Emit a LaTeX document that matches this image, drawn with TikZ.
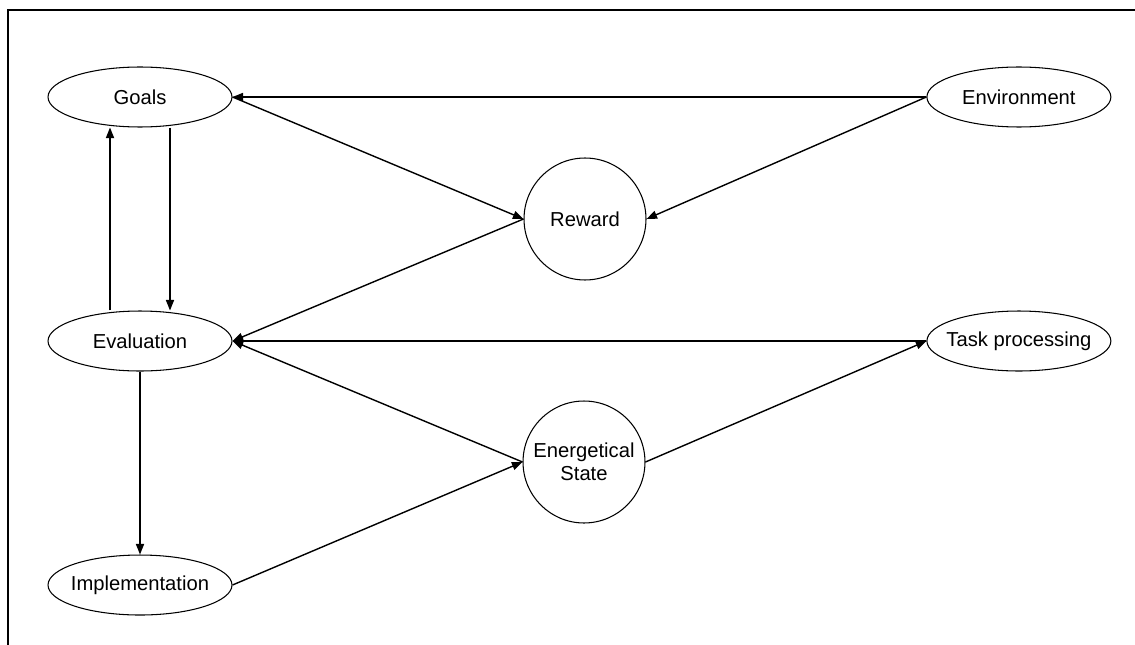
\documentclass[tikz,border=0pt]{standalone}
\usepackage{fontspec}
\setmainfont{Liberation Sans}
\usetikzlibrary{positioning,shapes.geometric,arrows.meta}

\begin{document}
\begin{tikzpicture} [
                x=0.02cm, y=-0.02cm,
                ovalnode/.style={
                    ellipse,
                    draw,
                    line width=0.6pt,
                    minimum width=3.68cm,
                    minimum height=1.2cm,
                    inner xsep=-0.2cm,
                    inner ysep=0pt,
                    font=\fontsize{11.5}{13}\selectfont
                },
                roundnode/.style={
                    circle,
                    draw,
                    line width=0.6pt,
                    minimum size=2.44cm,
                    inner sep=0pt,
                    align=center,
                    font=\fontsize{11.5}{12.8}\selectfont
                },
                link/.style={
                    line width=0.8pt,
                    -{Triangle[length=6pt,width=4.6pt]}
                }
            ]

                \useasboundingbox (0,0) rectangle (1135,645);
                \draw[line width=1.6pt] (8,645) -- (8,10) -- (1135,10);

                \node[ovalnode]     (goals)         at (140,97)                         {Goals};
                \node[ovalnode]     (evaluation)    [below=3.66cm of goals]             {Evaluation};
                \node[ovalnode]     (implementation) [below=3.66cm of evaluation]       {Implementation};
                \node[ovalnode]     (environment)   [right=13.88cm of goals]            {Environment};
                \node[ovalnode]     (taskproc)      [right=13.88cm of evaluation]       {Task processing};

                \node[roundnode]    (reward)        at (585,219)                        {Reward};
                \node[roundnode]    (energetic)     at (584,462)                        {Energetical\\State};

                \draw[link] (environment.west)  -- (goals.east);
                \draw[link] (goals.east)        -- (reward.west);
                \draw[link] (environment.west)  -- (reward.east);
                \draw[link] (reward.west)       -- (evaluation.east);
                \draw[link] (taskproc.west)     -- (evaluation.east);
                \draw[link] (energetic.west)    -- (evaluation.east);
                \draw[link] (implementation.east) -- (energetic.west);
                \draw[link] (energetic.east)    -- (taskproc.west);

                \draw[link] ([xshift=-0.6cm]evaluation.north) -- ([xshift=-0.6cm]goals.south);
                \draw[link] ([xshift=0.6cm]goals.south)       -- ([xshift=0.6cm]evaluation.north);
                \draw[link] (evaluation.south)                -- (implementation.north);

            \end{tikzpicture}
\end{document}
